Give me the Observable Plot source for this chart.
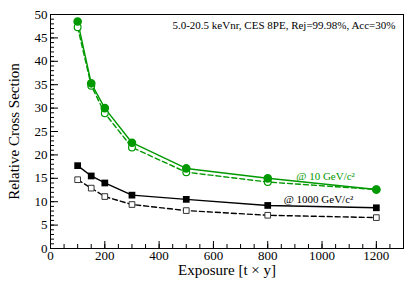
<!DOCTYPE html>
<html><head><meta charset="utf-8">
<script src="https://cdn.jsdelivr.net/npm/d3@7"></script>
<script src="https://cdn.jsdelivr.net/npm/@observablehq/plot@0.6"></script>
<style>body{margin:0;background:#fff} svg, svg text{font-family:"Liberation Serif","Times New Roman",serif !important}</style>
</head><body><div id="chart"></div>
<script>
const exposure = [100, 150, 200, 300, 500, 800, 1200];
const green10Solid = [48.5, 35.3, 30.0, 22.6, 17.1, 15.0, 12.6];
const green10Dashed = [47.3, 34.8, 28.9, 21.6, 16.3, 14.2, 12.6];
const black1000Solid = [17.7, 15.5, 14.0, 11.4, 10.5, 9.2, 8.7];
const black1000Dashed = [14.7, 12.9, 11.1, 9.4, 8.1, 7.1, 6.6];
const xTicks = [0, 200, 400, 600, 800, 1000, 1200];
const yTicks = [0, 5, 10, 15, 20, 25, 30, 35, 40, 45, 50];
const annotation = "5.0-20.5 keVnr, CES 8PE, Rej=99.98%, Acc=30%";
const xLabel = "Exposure [t × y]";
const yLabel = "Relative Cross Section";

const toRows = ys => exposure.map((x, i) => ({x, y: ys[i]}));
const gS = toRows(green10Solid), gD = toRows(green10Dashed);
const bS = toRows(black1000Solid), bD = toRows(black1000Dashed);
const green = "#009900";
const serif = "Liberation Serif";

const chart = Plot.plot({
  width: 417, height: 283,
  marginLeft: 50, marginRight: 14, marginTop: 14, marginBottom: 35,
  style: {fontFamily: serif, fontSize: "13px", background: "white", color: "black"},
  x: {domain: [0, 1300]},
  y: {domain: [0, 50]},
  marks: [
    Plot.frame({stroke: "black", strokeWidth: 1}),
    Plot.axisX({ticks: d3.range(0, 1301, 50), tickSize: -4, tickFormat: () => "", label: null}),
    Plot.axisX({ticks: xTicks, tickSize: -7, tickFormat: () => "", label: null}),
    Plot.axisX({ticks: xTicks, tickSize: 0, tickPadding: 2, fontSize: 13, fontFamily: serif, tickFormat: "d", label: null}),
    Plot.axisY({ticks: d3.range(0, 51, 1), tickSize: -4, tickFormat: () => "", label: null}),
    Plot.axisY({ticks: yTicks, tickSize: -8, tickFormat: () => "", label: null}),
    Plot.axisY({ticks: yTicks, tickSize: 0, tickPadding: 3, fontSize: 13, fontFamily: serif, tickFormat: "d", label: null}),
    Plot.text([xLabel], {frameAnchor: "bottom", dy: 26, fontSize: 15, fontFamily: serif, fill: "black"}),
    Plot.text([yLabel], {frameAnchor: "left", textAnchor: "middle", dx: -36, rotate: -90, fontSize: 15, fontFamily: serif, fill: "black"}),
    Plot.line(gD, {x: "x", y: "y", stroke: green, strokeWidth: 1.4, strokeDasharray: "5,3"}),
    Plot.line(gS, {x: "x", y: "y", stroke: green, strokeWidth: 1.4}),
    Plot.line(bD, {x: "x", y: "y", stroke: "black", strokeWidth: 1.4, strokeDasharray: "5,3"}),
    Plot.line(bS, {x: "x", y: "y", stroke: "black", strokeWidth: 1.4}),
    Plot.dot(gD, {x: "x", y: "y", r: 3.4, stroke: green, fill: "white", strokeWidth: 1.2}),
    Plot.dot(gS, {x: "x", y: "y", r: 3.6, fill: green, stroke: green}),
    Plot.dot(bD, {x: "x", y: "y", r: 3.2, symbol: "square", stroke: "#333", fill: "white", strokeWidth: 1}),
    Plot.dot(bS, {x: "x", y: "y", r: 3.8, symbol: "square", fill: "black"}),
    Plot.text([annotation], {frameAnchor: "top-right", dx: -8, dy: 7, fontSize: 11, fontFamily: serif, fill: "black"}),
    Plot.text(["@ 10 GeV/c²"], {x: 1013, y: 15.4, fontSize: 11, fontFamily: serif, fill: green}),
    Plot.text(["@ 1000 GeV/c²"], {x: 987, y: 10.5, fontSize: 11, fontFamily: serif, fill: "black"})
  ]
});
document.getElementById("chart").appendChild(chart);
</script></body></html>
